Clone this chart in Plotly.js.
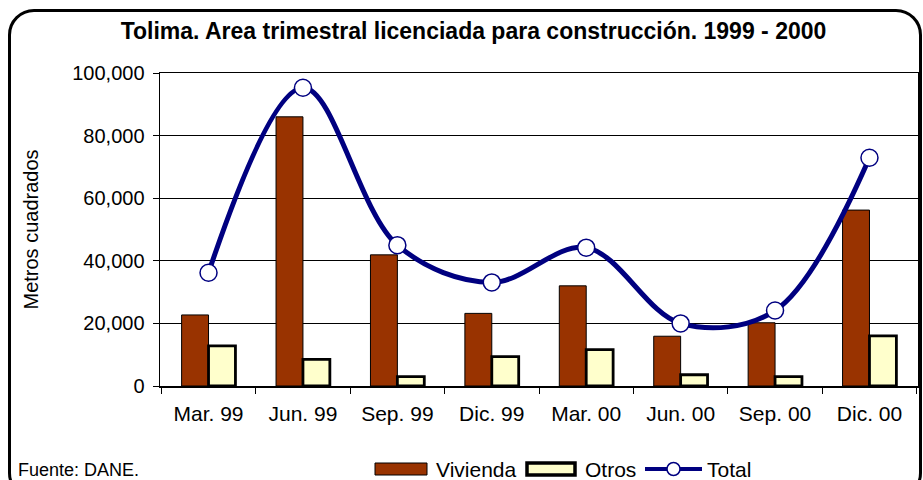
<!DOCTYPE html>
<html>
<head>
<meta charset="utf-8">
<script src="https://cdn.plot.ly/plotly-3.0.1.min.js"></script>
<style>
  html, body { margin: 0; padding: 0; background: #ffffff; }
  #wrap { position: relative; width: 923px; height: 480px; overflow: hidden; }
  #frame { position: absolute; left: 8px; top: 9px; width: 914px; height: 490px;
           border: 3px solid #000; border-radius: 26px; box-sizing: border-box; }
  #chart { position: absolute; left: 0; top: 0; width: 923px; height: 480px; }
</style>
</head>
<body>
<div id="wrap">
  <div id="frame"></div>
  <div id="chart"></div>
</div>
<script>
const categories = ["Mar. 99", "Jun. 99", "Sep. 99", "Dic. 99", "Mar. 00", "Jun. 00", "Sep. 00", "Dic. 00"];
const vivienda = [22700, 86000, 41900, 23200, 32000, 15900, 20200, 56200];
const otros    = [12800, 8500, 3000, 9400, 11600, 3600, 3000, 16000];
const total    = [36200, 95300, 45000, 33100, 44200, 20000, 24100, 72900];
const yTicks   = [0, 20000, 40000, 60000, 80000, 100000];
const seriesNames = ["Vivienda", "Otros", "Total"];

const FONT = "Arial, 'Liberation Sans', sans-serif";
const VIV_COLOR = "#993300", OTR_COLOR = "#FFFFCC", TOT_COLOR = "#000080";

// plot-area geometry (pixels) used only to place the hand-made legend
const W = 923, H = 480, ML = 160, MR = 5, MT = 73, MB = 94;
const PW = W - ML - MR, PH = H - MT - MB;
const px = v => (v - ML) / PW;          // pixel x -> paper x
const py = v => (H - MB - v) / PH;      // pixel y -> paper y

const traces = [
  {
    type: "bar", name: seriesNames[0], x: categories, y: vivienda,
    marker: { color: VIV_COLOR, line: { color: "#000000", width: 1 } }
  },
  {
    type: "bar", name: seriesNames[1], x: categories, y: otros,
    marker: { color: OTR_COLOR, line: { color: "#000000", width: 2.8 } }
  },
  {
    type: "scatter", mode: "lines+markers", name: seriesNames[2], x: categories, y: total,
    line: { color: TOT_COLOR, width: 5, shape: "spline", smoothing: 1 },
    marker: { symbol: "circle", size: 17, color: "#FFFFFF", line: { color: TOT_COLOR, width: 1.5 } }
  }
];

const legY = 469;
const shapes = [
  { type: "rect", xref: "paper", yref: "paper", x0: px(375), x1: px(427), y0: py(legY + 6), y1: py(legY - 6),
    fillcolor: VIV_COLOR, line: { color: "#000", width: 1 } },
  { type: "rect", xref: "paper", yref: "paper", x0: px(527), x1: px(575), y0: py(legY + 6), y1: py(legY - 6),
    fillcolor: OTR_COLOR, line: { color: "#000", width: 3.5 } },
  { type: "line", xref: "paper", yref: "paper", x0: px(645), x1: px(702), y0: py(legY), y1: py(legY),
    line: { color: TOT_COLOR, width: 4 } },
  { type: "circle", xref: "paper", yref: "paper", x0: px(667), x1: px(680), y0: py(legY + 6.5), y1: py(legY - 6.5),
    fillcolor: "#FFFFFF", line: { color: TOT_COLOR, width: 1.5 } }
];

const legText = (t, x) => ({
  text: t, xref: "paper", yref: "paper", x: px(x), xanchor: "left", y: py(legY), yanchor: "middle",
  showarrow: false, font: { family: FONT, size: 21, color: "#000" }
});

const layout = {
  width: W, height: H,
  paper_bgcolor: "rgba(0,0,0,0)", plot_bgcolor: "#FFFFFF",
  margin: { l: ML, r: MR, t: MT, b: MB },
  font: { family: FONT, size: 20, color: "#000000" },
  title: {
    text: "<b>Tolima. Area trimestral licenciada para construcción. 1999 - 2000</b>",
    font: { family: FONT, size: 23, color: "#000000" },
    x: 0.513, xanchor: "center", y: 0.935, yanchor: "middle"
  },
  barmode: "group", bargap: 0.43, bargroupgap: 0,
  xaxis: {
    type: "category", tickson: "boundaries", ticks: "outside", ticklen: 6,
    tickcolor: "#000", tickwidth: 1, ticklabelstandoff: 8,
    showline: true, linecolor: "#000", linewidth: 1.5, mirror: true,
    showgrid: false, tickfont: { size: 21 }, automargin: false, fixedrange: true
  },
  yaxis: {
    range: [0, 100000], tickvals: yTicks, tickformat: ",d",
    ticks: "outside", ticklen: 6, tickcolor: "#000", tickwidth: 1, ticklabelstandoff: 4,
    showline: true, linecolor: "#000", linewidth: 1.5, mirror: true,
    showgrid: true, gridcolor: "#000", gridwidth: 1.2,
    zeroline: false, tickfont: { size: 20 }, automargin: false,
    title: { text: "Metros cuadrados", font: { size: 20 }, standoff: 28 },
    fixedrange: true
  },
  showlegend: false,
  shapes: shapes,
  annotations: [
    legText(seriesNames[0], 434),
    legText(seriesNames[1], 583),
    legText(seriesNames[2], 705),
    {
      text: "Fuente: DANE.", xref: "paper", yref: "paper",
      x: px(16), xanchor: "left", y: py(470), yanchor: "middle",
      showarrow: false, font: { family: FONT, size: 18, color: "#000" }
    }
  ]
};

Plotly.newPlot("chart", traces, layout, { displayModeBar: false, staticPlot: true });
</script>
</body>
</html>
